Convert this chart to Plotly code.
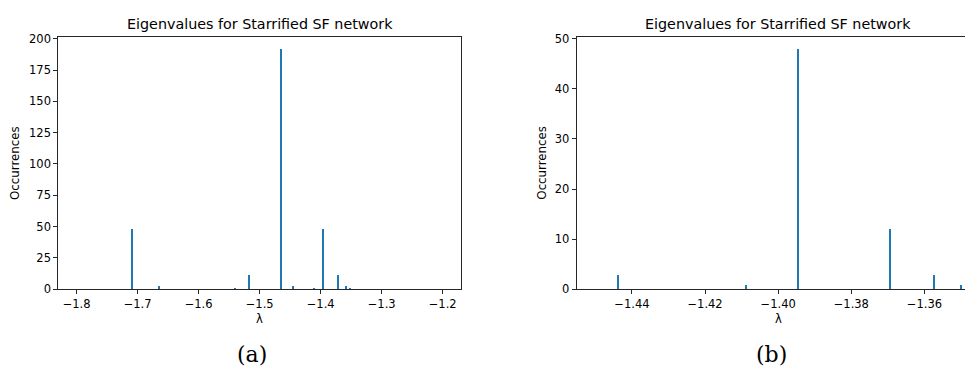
import plotly.graph_objects as go

# ---- data ----
eig_a = [-1.7090, -1.6635, -1.5400, -1.5160, -1.4640, -1.4438, -1.4100, -1.3946, -1.3700, -1.3578, -1.3503]
count_a = [48, 3, 1, 12, 192, 3, 1, 48, 12, 3, 1]

eig_b = [-1.4438, -1.4088, -1.3946, -1.3695, -1.3574, -1.3502]
count_b = [3, 1, 48, 12, 3, 1]

xticks_a = [-1.8, -1.7, -1.6, -1.5, -1.4, -1.3, -1.2]
xlabels_a = ["\u22121.8", "\u22121.7", "\u22121.6", "\u22121.5", "\u22121.4", "\u22121.3", "\u22121.2"]
yticks_a = [0, 25, 50, 75, 100, 125, 150, 175, 200]

xticks_b = [-1.44, -1.42, -1.40, -1.38, -1.36]
xlabels_b = ["\u22121.44", "\u22121.42", "\u22121.40", "\u22121.38", "\u22121.36"]
yticks_b = [0, 10, 20, 30, 40, 50]

title_text = "Eigenvalues for Starrified SF network"
ylabel = "Occurrences"
xlabel = "\u03bb"
captions = ["(a)", "(b)"]

# page is slightly taller than the window; the bottom is simply cropped
W, H = 965, 388
BLUE = "#1f77b4"
LINE = "#262626"
FONT = "DejaVu Sans"


def py(v):
    """pixel row from the top -> paper coordinate"""
    return (H - v) / H


fig = go.Figure()
fig.add_trace(go.Bar(x=eig_a, y=count_a, width=[0.0024] * len(eig_a),
                     marker=dict(color=BLUE, line=dict(width=0)),
                     xaxis="x", yaxis="y", showlegend=False))
fig.add_trace(go.Bar(x=eig_b, y=count_b, width=[0.00055] * len(eig_b),
                     marker=dict(color=BLUE, line=dict(width=0)),
                     xaxis="x2", yaxis="y2", showlegend=False))

ydom = [py(293.3), py(32.7)]
common_x = dict(showgrid=False, zeroline=False, ticks="outside", ticklen=4, tickwidth=1,
                tickcolor=LINE, showline=True, linecolor=LINE, linewidth=1,
                tickfont=dict(family=FONT, size=11.5, color="#000"))
common_y = dict(common_x)

fig.update_layout(
    width=W, height=H,
    margin=dict(l=0, r=0, t=0, b=0),
    paper_bgcolor="white", plot_bgcolor="white",
    bargap=0,
    xaxis=dict(domain=[58.3 / W, 461 / W], range=[-1.83, -1.17], anchor="y",
               tickmode="array", tickvals=xticks_a, ticktext=xlabels_a, mirror=True, **common_x),
    yaxis=dict(domain=ydom, range=[0, 201.6], anchor="x",
               tickmode="array", tickvals=yticks_a, mirror=True, **common_y),
    xaxis2=dict(domain=[576.7 / W, 1.0], range=[-1.4551, -1.34891], anchor="y2",
                tickmode="array", tickvals=xticks_b, ticktext=xlabels_b, mirror=True, **common_x),
    yaxis2=dict(domain=ydom, range=[0, 50.4], anchor="x2",
                tickmode="array", tickvals=yticks_b, mirror=False, **common_y),
)

ann = []
for xc in [(58.3 + 461) / 2, (576.7 + 979.3) / 2]:
    ann.append(dict(text=title_text, x=xc / W, y=py(20), xref="paper", yref="paper",
                    showarrow=False, xanchor="center", yanchor="middle",
                    font=dict(family=FONT, size=14.3, color="#000")))
    ann.append(dict(text=xlabel, x=xc / W, y=py(324), xref="paper", yref="paper",
                    showarrow=False, xanchor="center", yanchor="middle",
                    font=dict(family=FONT, size=11.5, color="#000")))
for xc in [15, 541.7]:
    ann.append(dict(text=ylabel, x=xc / W, y=py(163), xref="paper", yref="paper",
                    showarrow=False, xanchor="center", yanchor="middle", textangle=-90,
                    font=dict(family=FONT, size=11.8, color="#000")))
for cap, xc in zip(captions, [251.5, 771]):
    ann.append(dict(text=cap, x=xc / W, y=py(361), xref="paper", yref="paper",
                    showarrow=False, xanchor="center", yanchor="middle",
                    font=dict(family="DejaVu Serif", size=22, color="#000")))
fig.update_layout(annotations=ann)

css = ("var s=document.createElement('style');"
       "s.innerHTML='html,body{margin:0;padding:0;overflow:hidden;}';"
       "document.head.appendChild(s);")
fig.write_html("out.html", config={"displayModeBar": False}, post_script=css)
